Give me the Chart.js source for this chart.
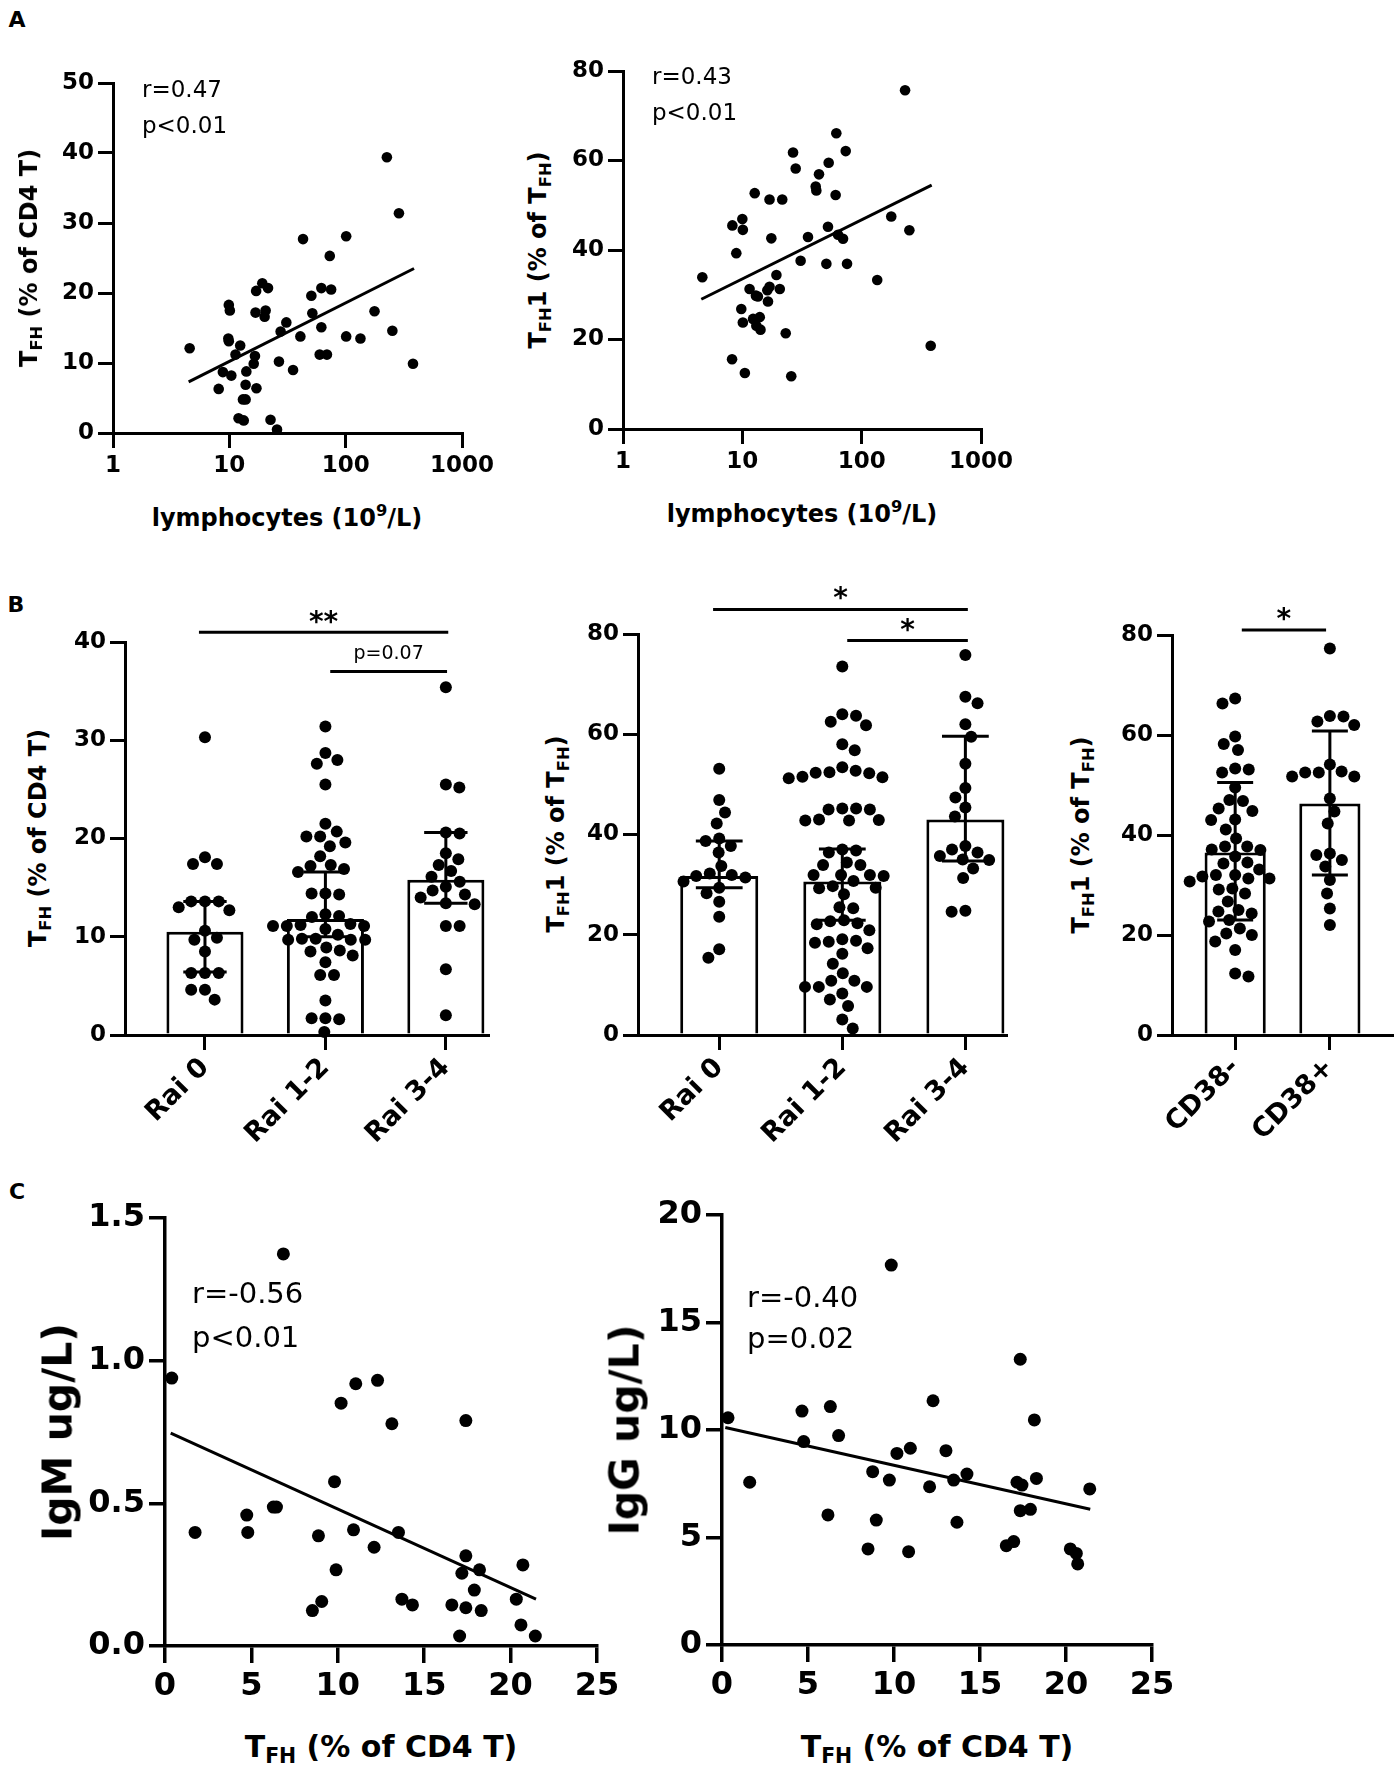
<!DOCTYPE html>
<html>
<head>
<meta charset="utf-8">
<script src="https://cdn.jsdelivr.net/npm/chart.js@4.4.1/dist/chart.umd.min.js"></script>
<style>
  html, body { margin: 0; padding: 0; background: #fff; }
  body { width: 1398px; height: 1773px; position: relative; overflow: hidden; font-family: 'DejaVu Sans', sans-serif; color: #000; }
  .box { position: absolute; }
  .lbl { position: absolute; white-space: nowrap; font-weight: bold; transform: translate(-50%, -50%); z-index: 2; line-height: 1; }
  .lbl.rot { transform: translate(-50%, -50%) rotate(-90deg); }
  .lbl sub { font-size: 68%; vertical-align: -0.3em; line-height: 0; }
  .lbl sup { font-size: 68%; vertical-align: 0.6em; line-height: 0; }
</style>
</head>
<body>
<script>
// ---------- A: lymphocyte count vs TFH / TFH1 ----------
const lymphA1 = [4.56, 226, 287, 43, 101, 73, 19.2, 17, 21.5, 50.7, 61.8, 75, 9.9, 10.1, 16.8, 20.5, 20.1, 51.7, 177, 30.9,
  27.6, 61.8, 40.8, 101, 134, 252, 9.8, 9.9, 12.4, 11.3, 16.6, 59.8, 69, 16.2, 26.7, 379, 35.3, 8.8, 10.4, 14,
  13.8, 8.1, 17.1, 13.1, 13.8, 12, 13.3, 22.6, 25.7];
const tfhA1 = [12.1, 39.4, 31.4, 27.7, 28.1, 25.3, 21.4, 20.3, 20.7, 19.6, 20.7, 20.5, 18.3, 17.5, 17.2, 17.5, 16.6, 17.1, 17.4, 15.8,
  14.5, 15.1, 13.8, 13.8, 13.5, 14.6, 13.5, 13.1, 12.5, 11.2, 11.0, 11.2, 11.2, 9.9, 10.2, 9.9, 9.0, 8.7, 8.2, 8.8,
  6.9, 6.3, 6.4, 4.8, 4.8, 2.1, 1.8, 1.9, 0.5];
const fitA1x = [4.47, 387];
const fitA1y = [7.3, 23.5];

const lymphA2 = [4.62, 8.25, 10, 10.1, 8.9, 12.7, 16.9, 21.6, 26.6, 28, 17.5, 61.3, 73.5, 52.9, 43.9, 41.2, 41.7, 60.5, 52.2, 35.5,
  63.4, 69.8, 30.8, 50.6, 75.4, 135, 177, 19.3, 16.9, 20.6, 11.5, 13.5, 16.4, 9.8, 10.1, 12.3, 14, 13.1, 14.2, 23.1,
  8.2, 10.5, 25.7, 231, 251, 379, 16.2, 13.0];
const tfh1A2 = [33.9, 45.5, 46.9, 44.5, 39.3, 52.7, 51.3, 51.3, 61.8, 58.2, 42.6, 66.1, 62.1, 59.5, 56.9, 54.2, 53.3, 52.3, 45.2, 42.9,
  43.4, 42.5, 37.6, 36.9, 36.9, 33.3, 47.5, 34.4, 31.8, 31.3, 31.3, 29.6, 28.5, 26.8, 23.8, 24.6, 25.0, 23.1, 22.2, 21.4,
  15.6, 12.5, 11.8, 75.7, 44.4, 18.6, 31.0, 29.8];
const fitA2x = [4.53, 386];
const fitA2y = [29.0, 54.5];

const logTicks = [1, 10, 100, 1000];
const tfhTicks = [0, 10, 20, 30, 40, 50];
const tfh1Ticks = [0, 20, 40, 60, 80];

// ---------- B: Rai stage / CD38 ----------
const raiCats = ['Rai 0', 'Rai 1-2', 'Rai 3-4'];
const cd38Cats = ['CD38-', 'CD38+'];

const tfhRai0 = [30.3, 18.1, 17.4, 17.4, 13.6, 13.6, 13.6, 12.7, 13.0, 10.6, 9.9, 9.7, 8.5, 6.3, 6.3, 6.3, 4.6, 4.6, 3.6];
const tfhRai12 = [31.4, 28.0, 28.7, 27.6, 25.5, 21.5, 20.2, 20.7, 20.2, 19.6, 19.2, 18.2, 17.2, 17.3, 16.9, 16.6, 14.4, 14.4, 14.3, 12.0,
  12.1, 12.3, 10.8, 11.3, 11.1, 11.1, 11.2, 11.1, 9.7, 9.8, 10.2, 9.7, 9.7, 9.8, 8.5, 8.9, 8.6, 8.1, 7.4, 6.1,
  6.1, 3.5, 1.7, 1.6, 1.7, 0.3];
const tfhRai34 = [35.4, 25.2, 25.5, 20.5, 20.6, 18.5, 17.9, 17.3, 16.1, 16.7, 15.6, 15.1, 14.3, 14.7, 14.0, 13.4, 13.3, 11.1, 11.1, 6.7, 2.0];
const tfhRaiBar = [10.5, 11.8, 15.8];
const tfhRaiLo = [6.4, 10.0, 13.4];
const tfhRaiHi = [13.6, 16.6, 20.6];
const tfhRaiTicks = [0, 10, 20, 30, 40];

const tfh1Rai0 = [53.1, 46.9, 44.4, 42.2, 38.7, 39.2, 36.4, 37.7, 33.7, 31.4, 31.9, 32.2, 31.7, 29.4, 28.3, 26.6, 30.6, 23.6, 17.1, 15.4];
const tfh1Rai12 = [73.5, 63.7, 64.0, 61.8, 62.5, 58.0, 56.8, 52.4, 52.2, 51.5, 51.2, 51.4, 52.3, 53.4, 52.7, 45.2, 45.0, 45.0, 45.2, 43.0,
  42.8, 42.8, 42.9, 37.0, 36.8, 36.4, 34.4, 33.9, 33.9, 31.9, 31.9, 31.9, 31.7, 30.7, 29.7, 29.4, 29.3, 28.1, 25.3, 25.5,
  22.9, 22.7, 22.3, 22.1, 20.9, 19.1, 18.8, 18.6, 18.4, 17.3, 16.2, 14.2, 12.3, 10.8, 10.8, 9.6, 9.6, 9.6, 8.3, 7.1,
  5.8, 3.1, 1.3];
const tfh1Rai34 = [75.8, 66.2, 67.5, 62.0, 59.5, 54.1, 47.4, 49.3, 45.4, 43.6, 37.7, 36.4, 37.0, 35.0, 34.9, 35.7, 31.3, 33.2, 24.6, 24.8];
const tfh1RaiBar = [31.7, 30.6, 43.0];
const tfh1RaiLo = [29.4, 22.9, 34.7];
const tfh1RaiHi = [38.7, 37.1, 59.6];

const tfh1Cd38Neg = [66.3, 67.3, 59.7, 58.2, 57.0, 53.3, 53.1, 52.5, 49.5, 46.8, 47.0, 44.8, 45.3, 43.0, 43.1, 41.1, 39.3, 37.7, 37.1, 37.7,
  37.0, 35.7, 34.3, 34.5, 33.1, 32.0, 31.3, 31.7, 32.0, 31.3, 30.7, 29.3, 29.1, 28.3, 26.7, 24.7, 24.3, 25.0, 23.0, 22.7,
  21.3, 20.3, 20.0, 18.7, 17.0, 11.7, 12.3];
const tfh1Cd38Pos = [77.3, 63.8, 62.0, 63.7, 62.7, 54.1, 51.7, 51.7, 52.5, 52.5, 52.7, 47.3, 44.7, 42.3, 36.3, 36.0, 35.0, 33.7, 31.0, 28.3,
  25.3, 22.0];
const tfh1Cd38Bar = [36.5, 46.3];
const tfh1Cd38Lo = [23.0, 32.0];
const tfh1Cd38Hi = [50.5, 60.8];

const sigTfhRai = [{ from: -0.05, to: 2.02, at: 41.0, text: '**', f: 'bold 28px "DejaVu Sans"', lift: 1 },
                   { from: 1.04, to: 2.01, at: 37.0, text: 'p=0.07', f: '19px "DejaVu Sans"', lift: 12 }];
const sigTfh1Rai = [{ from: -0.05, to: 2.02, at: 84.9, text: '*', f: 'bold 28px "DejaVu Sans"', lift: 2 },
                    { from: 1.04, to: 2.02, at: 78.7, text: '*', f: 'bold 28px "DejaVu Sans"', lift: 2 }];
const sigTfh1Cd38 = [{ from: 0.07, to: 0.96, at: 81.0, text: '*', f: 'bold 28px "DejaVu Sans"', lift: 2 }];

// ---------- C: TFH vs immunoglobulins ----------
const tfhC1 = [6.85, 0.39, 11.04, 12.3, 10.19, 13.13, 17.41, 9.81, 4.73, 6.27, 6.45, 1.74, 4.79, 8.88, 10.91, 13.51, 12.1,
  17.41, 17.18, 18.2, 20.71, 9.9, 17.9, 9.07, 8.53, 13.71, 14.32, 16.6, 17.41, 18.3, 20.33, 20.6, 17.05, 21.43];
const igm = [1.374, 0.939, 0.919, 0.931, 0.851, 0.779, 0.790, 0.576, 0.459, 0.487, 0.487, 0.398, 0.398, 0.386, 0.407, 0.398, 0.346,
  0.316, 0.255, 0.267, 0.284, 0.267, 0.196, 0.156, 0.124, 0.164, 0.144, 0.144, 0.134, 0.124, 0.164, 0.074, 0.035, 0.035];
const fitC1x = [0.33, 21.47];
const fitC1y = [0.746, 0.164];

const tfhC2 = [9.84, 17.34, 12.27, 18.16, 0.35, 4.65, 6.3, 4.75, 6.78, 10.17, 10.95, 13.02, 8.76, 9.73, 13.47, 14.24, 12.07,
  17.15, 17.44, 18.28, 21.38, 1.61, 6.16, 8.97, 13.66, 17.34, 17.93, 16.53, 16.96, 8.49, 10.85, 20.25, 20.6, 20.68];
const igg = [17.67, 13.29, 11.36, 10.47, 10.57, 10.88, 11.09, 9.46, 9.74, 8.91, 9.15, 9.04, 8.06, 7.67, 7.67, 7.95, 7.36,
  7.57, 7.44, 7.75, 7.26, 7.57, 6.05, 5.81, 5.71, 6.25, 6.31, 4.62, 4.81, 4.47, 4.34, 4.47, 4.26, 3.77];
const fitC2x = [0.19, 21.41];
const fitC2y = [10.12, 6.31];

const tfhCTicks = [0, 5, 10, 15, 20, 25];
const igmTicks = [0, 0.5, 1.0, 1.5];
const iggTicks = [0, 5, 10, 15, 20];

// ---------- helpers ----------
Chart.defaults.font.family = "'DejaVu Sans', sans-serif";
Chart.defaults.color = '#000';

const zip = (xs, ys) => xs.map((x, i) => ({ x: x, y: ys[i] }));

function mount(box, area) {
  const [x0, y0, x1, y1] = box;
  const div = document.createElement('div');
  div.className = 'box';
  div.style.left = x0 + 'px';
  div.style.top = y0 + 'px';
  const c = document.createElement('canvas');
  c.width = x1 - x0;
  c.height = y1 - y0;
  div.appendChild(c);
  document.body.appendChild(div);
  return {
    canvas: c,
    yW: area[0] - x0,
    xH: y1 - area[3],
    pad: { left: 0, top: area[1] - y0, right: x1 - area[2], bottom: 0 }
  };
}

function axis(o) {
  return {
    type: o.type || 'linear',
    min: o.min,
    max: o.max,
    offset: false,
    afterFit(s) { if (s.isHorizontal()) s.height = o.size; else s.width = o.size; },
    afterBuildTicks(s) { s.ticks = o.ticks.map(v => ({ value: v })); },
    border: { display: true, color: '#000', width: o.lw },
    grid: { display: true, drawOnChartArea: false, drawTicks: true, tickLength: o.tick, lineWidth: o.lw, color: '#000', offset: false },
    ticks: {
      color: '#000', font: { size: o.font, weight: 'bold' }, padding: o.pad, autoSkip: false,
      minRotation: o.rot || 0, maxRotation: o.rot || 0,
      callback: o.fmt || (v => String(v))
    }
  };
}

function base() {
  return {
    responsive: false,
    animation: false,
    events: [],
    plugins: { legend: { display: false }, tooltip: { enabled: false } }
  };
}

// r / p text, placed from the top-left corner of the plot area
function notes(items) {
  return {
    id: 'notes',
    afterDraw(chart) {
      const ctx = chart.ctx, a = chart.chartArea;
      ctx.save();
      ctx.fillStyle = '#000';
      ctx.textAlign = 'left';
      ctx.textBaseline = 'alphabetic';
      items.forEach(it => { ctx.font = it.f; ctx.fillText(it.text, a.left + it.dx, a.top + it.dy); });
      ctx.restore();
    }
  };
}

function errBars(lo, hi, cap) {
  return {
    id: 'errbars',
    afterDatasetsDraw(chart) {
      const xs = chart.scales.x, ys = chart.scales.y, ctx = chart.ctx;
      const half = cap * (xs.getPixelForValue(1) - xs.getPixelForValue(0));
      ctx.save();
      ctx.strokeStyle = '#000';
      ctx.lineWidth = 3;
      lo.forEach((l, i) => {
        const x = xs.getPixelForValue(i), y0 = ys.getPixelForValue(l), y1 = ys.getPixelForValue(hi[i]);
        ctx.beginPath();
        ctx.moveTo(x, y0); ctx.lineTo(x, y1);
        ctx.moveTo(x - half, y0); ctx.lineTo(x + half, y0);
        ctx.moveTo(x - half, y1); ctx.lineTo(x + half, y1);
        ctx.stroke();
      });
      ctx.restore();
    }
  };
}

function sigLines(items) {
  return {
    id: 'sig',
    afterDraw(chart) {
      const xs = chart.scales.x, ys = chart.scales.y, ctx = chart.ctx;
      ctx.save();
      ctx.strokeStyle = '#000';
      ctx.fillStyle = '#000';
      ctx.lineWidth = 3;
      items.forEach(s => {
        const x0 = xs.getPixelForValue(s.from), x1 = xs.getPixelForValue(s.to), y = ys.getPixelForValue(s.at);
        ctx.beginPath(); ctx.moveTo(x0, y); ctx.lineTo(x1, y); ctx.stroke();
        ctx.font = s.f;
        ctx.textAlign = 'center';
        ctx.textBaseline = 'alphabetic';
        ctx.fillText(s.text, (x0 + x1) / 2, y - s.lift);
      });
      ctx.restore();
    }
  };
}

// spread the dots of each column sideways so they do not overlap (pixel space)
function swarm(chart, groups, d) {
  const xs = chart.scales.x, ys = chart.scales.y;
  const perCat = xs.getPixelForValue(1) - xs.getPixelForValue(0);
  const out = [];
  groups.forEach((vals, gi) => {
    const placed = [];
    const order = vals.map((v, i) => i).sort((a, b) => vals[b] - vals[a]);
    order.forEach((i, n) => {
      const py = ys.getPixelForValue(vals[i]);
      const cands = [0];
      placed.forEach(p => {
        const dy = py - p.y;
        if (Math.abs(dy) < d) {
          const dx = Math.sqrt(d * d - dy * dy);
          cands.push(p.x + dx, p.x - dx);
        }
      });
      const side = n % 2 ? 1 : -1;
      cands.sort((a, b) => (Math.abs(a) + (a * side > 0 ? 1e-3 : 0)) - (Math.abs(b) + (b * side > 0 ? 1e-3 : 0)));
      const ok = c => placed.every(p => (c - p.x) * (c - p.x) + (py - p.y) * (py - p.y) >= d * d - 0.5);
      const px = cands.find(ok);
      placed.push({ x: px, y: py });
      out.push({ x: gi + px / perCat, y: vals[i] });
    });
  });
  return out;
}

function scatterPanel(p) {
  const m = mount(p.box, p.area);
  return new Chart(m.canvas, {
    type: 'scatter',
    data: {
      datasets: [
        { data: zip(p.xs, p.ys), pointRadius: p.r, backgroundColor: '#000', borderWidth: 0, clip: false, order: 2 },
        { data: zip(p.fitX, p.fitY), showLine: true, borderColor: '#000', borderWidth: 3, pointRadius: 0, clip: false, order: 1 }
      ]
    },
    options: Object.assign(base(), {
      layout: { padding: m.pad },
      scales: { x: axis(Object.assign({ size: m.xH }, p.x)), y: axis(Object.assign({ size: m.yW }, p.y)) }
    }),
    plugins: [notes(p.notes)]
  });
}

function barPanel(p) {
  const m = mount(p.box, p.area);
  const chart = new Chart(m.canvas, {
    type: 'bar',
    data: {
      datasets: [
        { type: 'bar', data: p.bars.map((v, i) => ({ x: i, y: v })), backgroundColor: '#fff', borderColor: '#000',
          borderWidth: 3, barPercentage: 1, categoryPercentage: p.barW, order: 2 },
        { type: 'scatter', data: [], pointRadius: 6, backgroundColor: '#000', borderWidth: 0, clip: false, order: 1 }
      ]
    },
    options: Object.assign(base(), {
      layout: { padding: m.pad },
      scales: {
        x: axis({ size: m.xH, min: p.xMin, max: p.xMax, ticks: p.cats.map((c, i) => i), fmt: v => p.cats[v] || '',
                  font: 27, tick: 15, pad: 2, lw: 3, rot: 45 }),
        y: axis(Object.assign({ size: m.yW, font: 23, tick: 15, pad: 4, lw: 3 }, p.y))
      }
    }),
    plugins: [errBars(p.lo, p.hi, p.cap), sigLines(p.sig)]
  });
  chart.data.datasets[1].data = swarm(chart, p.groups, 13.8);
  chart.update('none');
  return chart;
}

// ---------- panel A ----------
const aX = { type: 'logarithmic', min: 1, max: 1000, ticks: logTicks, font: 23, tick: 15, pad: 4, lw: 3 };
scatterPanel({
  box: [40, 50, 515, 500], area: [113, 83, 462, 433],
  xs: lymphA1, ys: tfhA1, fitX: fitA1x, fitY: fitA1y, r: 5.3,
  x: aX, y: { min: 0, max: 50, ticks: tfhTicks, font: 23, tick: 15, pad: 4, lw: 3 },
  notes: [{ text: 'r=0.47', dx: 29, dy: 14, f: '23px "DejaVu Sans"' }, { text: 'p<0.01', dx: 29, dy: 50, f: '23px "DejaVu Sans"' }]
});
scatterPanel({
  box: [560, 40, 1030, 490], area: [623, 71, 981, 429],
  xs: lymphA2, ys: tfh1A2, fitX: fitA2x, fitY: fitA2y, r: 5.3,
  x: aX, y: { min: 0, max: 80, ticks: tfh1Ticks, font: 23, tick: 15, pad: 4, lw: 3 },
  notes: [{ text: 'r=0.43', dx: 29, dy: 13, f: '23px "DejaVu Sans"' }, { text: 'p<0.01', dx: 29, dy: 49, f: '23px "DejaVu Sans"' }]
});

// ---------- panel B ----------
barPanel({
  box: [60, 580, 500, 1160], area: [125, 642, 488, 1035],
  cats: raiCats, xMin: -0.664, xMax: 2.35, barW: 0.64, cap: 0.18,
  bars: tfhRaiBar, lo: tfhRaiLo, hi: tfhRaiHi, groups: [tfhRai0, tfhRai12, tfhRai34], sig: sigTfhRai,
  y: { min: 0, max: 40, ticks: tfhRaiTicks }
});
barPanel({
  box: [575, 560, 1020, 1160], area: [638, 634, 1006, 1035],
  cats: raiCats, xMin: -0.66, xMax: 2.33, barW: 0.634, cap: 0.19,
  bars: tfh1RaiBar, lo: tfh1RaiLo, hi: tfh1RaiHi, groups: [tfh1Rai0, tfh1Rai12, tfh1Rai34], sig: sigTfh1Rai,
  y: { min: 0, max: 80, ticks: tfh1Ticks }
});
barPanel({
  box: [1105, 580, 1398, 1160], area: [1172, 635, 1395, 1035],
  cats: cd38Cats, xMin: -0.667, xMax: 1.656, barW: 0.646, cap: 0.19,
  bars: tfh1Cd38Bar, lo: tfh1Cd38Lo, hi: tfh1Cd38Hi, groups: [tfh1Cd38Neg, tfh1Cd38Pos], sig: sigTfh1Cd38,
  y: { min: 0, max: 80, ticks: tfh1Ticks }
});

// ---------- panel C ----------
const cX = { min: 0, max: 25, ticks: tfhCTicks, font: 32, tick: 17, pad: 4, lw: 3.5 };
scatterPanel({
  box: [70, 1180, 635, 1720], area: [165, 1218, 597, 1646],
  xs: tfhC1, ys: igm, fitX: fitC1x, fitY: fitC1y, r: 6.5,
  x: cX, y: { min: 0, max: 1.5, ticks: igmTicks, font: 32, tick: 16, pad: 4, lw: 3.5, fmt: v => v.toFixed(1) },
  notes: [{ text: 'r=-0.56', dx: 27, dy: 85, f: '29px "DejaVu Sans"' }, { text: 'p<0.01', dx: 27, dy: 129, f: '29px "DejaVu Sans"' }]
});
scatterPanel({
  box: [640, 1180, 1195, 1720], area: [722, 1215, 1152, 1645],
  xs: tfhC2, ys: igg, fitX: fitC2x, fitY: fitC2y, r: 6.5,
  x: cX, y: { min: 0, max: 20, ticks: iggTicks, font: 32, tick: 16, pad: 4, lw: 3.5 },
  notes: [{ text: 'r=-0.40', dx: 25, dy: 92, f: '29px "DejaVu Sans"' }, { text: 'p=0.02', dx: 25, dy: 133, f: '29px "DejaVu Sans"' }]
});

// ---------- axis titles and panel letters ----------
const TFH = 'T<sub>FH</sub>';
const titles = [
  { html: 'A', x: 17, y: 20, size: 22 },
  { html: 'B', x: 16, y: 605, size: 22 },
  { html: 'C', x: 17, y: 1192, size: 22 },
  { html: TFH + ' (% of CD4 T)', x: 29, y: 258, size: 24, rot: true },
  { html: 'lymphocytes (10<sup>9</sup>/L)', x: 287, y: 518, size: 24 },
  { html: TFH + '1 (% of ' + TFH + ')', x: 538, y: 250, size: 24, rot: true },
  { html: 'lymphocytes (10<sup>9</sup>/L)', x: 802, y: 514, size: 24 },
  { html: TFH + ' (% of CD4 T)', x: 38, y: 838, size: 24, rot: true },
  { html: TFH + '1 (% of ' + TFH + ')', x: 556, y: 834, size: 24, rot: true },
  { html: TFH + '1 (% of ' + TFH + ')', x: 1081, y: 835, size: 24, rot: true },
  { html: 'IgM ug/L)', x: 58, y: 1432, size: 41, rot: true },
  { html: TFH + ' (% of CD4 T)', x: 381, y: 1747, size: 30 },
  { html: 'IgG ug/L)', x: 625, y: 1430, size: 41, rot: true },
  { html: TFH + ' (% of CD4 T)', x: 937, y: 1747, size: 30 }
];
titles.forEach(t => {
  const el = document.createElement('div');
  el.className = 'lbl' + (t.rot ? ' rot' : '');
  el.style.left = t.x + 'px';
  el.style.top = t.y + 'px';
  el.style.fontSize = t.size + 'px';
  el.innerHTML = t.html;
  document.body.appendChild(el);
});
</script>
</body>
</html>
